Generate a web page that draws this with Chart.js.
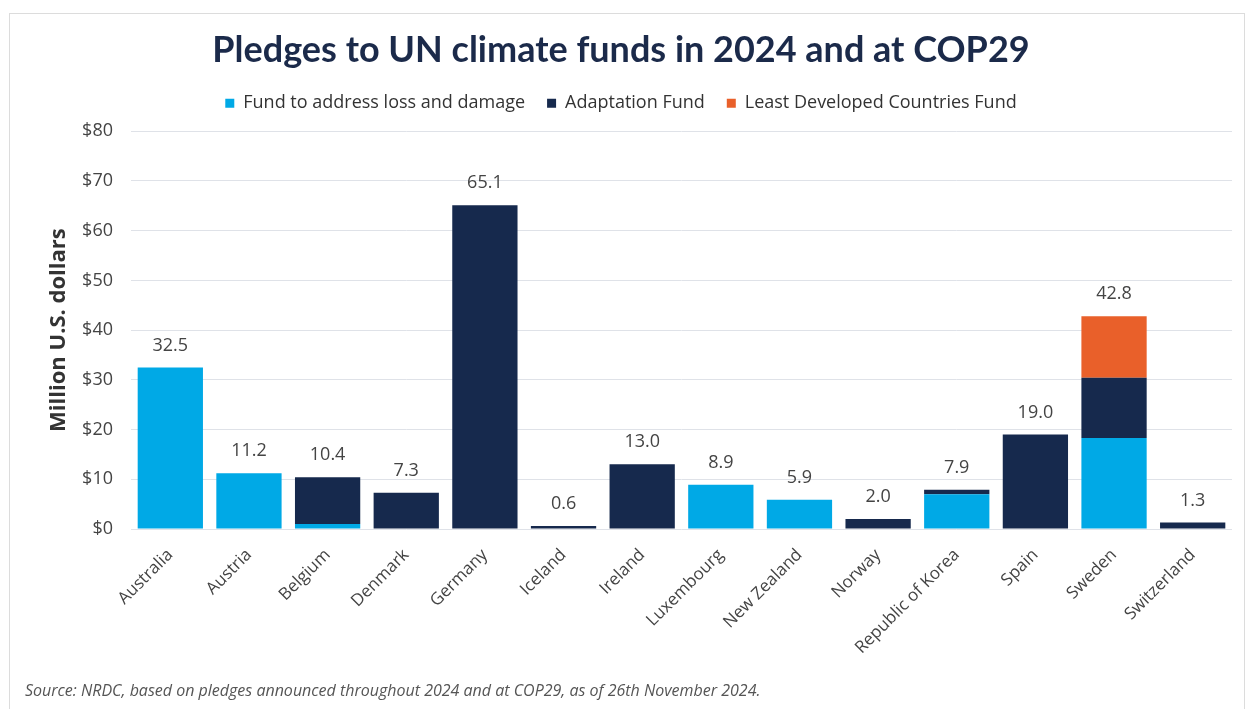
<!DOCTYPE html>
<html>
<head>
<meta charset="utf-8">
<script src="https://cdn.jsdelivr.net/npm/chart.js@4"></script>
<style>
  html, body { margin: 0; padding: 0; background: #fff; }
  body { width: 1253px; height: 709px; position: relative; overflow: hidden; font-family: "Open Sans", sans-serif; }
  .card { position: absolute; left: 9px; top: 13px; width: 1236px; height: 720px; border: 1px solid #dcdcdc; box-sizing: border-box; }
  .wrap { position: absolute; left: 0; top: 0; width: 1253px; height: 709px; }
  .source { position: absolute; left: 25px; top: 679px; font-size: 16px; font-style: italic; color: #555; }
</style>
</head>
<body>
<div class="card"></div>
<div class="wrap"><canvas id="pledgesChart"></canvas></div>
<div class="source">Source: NRDC, based on pledges announced throughout 2024 and at COP29, as of 26th November 2024.</div>
<script>
// Countries and pledges (million USD)
const countries = ['Australia', 'Austria', 'Belgium', 'Denmark', 'Germany', 'Iceland', 'Ireland',
  'Luxembourg', 'New Zealand', 'Norway', 'Republic of Korea', 'Spain', 'Sweden', 'Switzerland'];
const lossDamage = [32.5, 11.2, 1.0, 0, 0, 0, 0, 8.9, 5.9, 0, 7.0, 0, 18.3, 0];
const adaptation = [0, 0, 9.4, 7.3, 65.1, 0.6, 13.0, 0, 0, 2.0, 0.9, 19.0, 12.1, 1.3];
const ldcFund = [0, 0, 0, 0, 0, 0, 0, 0, 0, 0, 0, 0, 12.4, 0];
const yTicks = [0, 10, 20, 30, 40, 50, 60, 70, 80];

const totals = countries.map((_, i) => lossDamage[i] + adaptation[i] + ldcFund[i]);

// Writes the total above each stacked bar
const totalLabels = {
    id: 'totalLabels',
    afterDatasetsDraw: (chart) => {
        const { ctx, scales: { x, y } } = chart;
        ctx.save();
        ctx.font = '18px "Open Sans", sans-serif';
        ctx.fillStyle = '#444';
        ctx.textAlign = 'center';
        ctx.textBaseline = 'bottom';
        totals.forEach((t, i) => {
            ctx.fillText(t.toFixed(1), x.getPixelForValue(i), y.getPixelForValue(t) - 13);
        });
        ctx.restore();
    }
};

// Leaves a little more room between the legend and the plot
const legendGap = {
    id: 'legendGap',
    afterInit: (chart) => {
        const legend = chart.legend;
        const fit = legend.fit;
        legend.fit = function () {
            fit.call(this);
            this.height += 9;
        };
    }
};

new Chart(document.getElementById('pledgesChart'), {
    type: 'bar',
    data: {
        labels: countries,
        datasets: [
            { label: 'Fund to address loss and damage', data: lossDamage, backgroundColor: '#00a9e6' },
            { label: 'Adaptation Fund', data: adaptation, backgroundColor: '#16294d' },
            { label: 'Least Developed Countries Fund', data: ldcFund, backgroundColor: '#e9602a' }
        ]
    },
    options: {
        responsive: true,
        maintainAspectRatio: false,
        animation: false,
        datasets: { bar: { categoryPercentage: 1, barPercentage: 0.83 } },
        layout: { padding: { top: 29, left: 10, right: 21, bottom: 30 } },
        plugins: {
            title: {
                display: true,
                text: 'Pledges to UN climate funds in 2024 and at COP29',
                color: '#1b2a4a',
                font: { family: 'Lato', size: 36, weight: 'bold' },
                padding: { top: 0, bottom: 0 }
            },
            legend: {
                labels: {
                    usePointStyle: true,
                    pointStyle: 'rect',
                    boxWidth: 9,
                    boxHeight: 9,
                    color: '#333',
                    font: { family: 'Open Sans', size: 18 },
                    padding: 22
                }
            },
            tooltip: { enabled: false }
        },
        scales: {
            x: {
                stacked: true,
                grid: { display: false },
                border: { display: false },
                ticks: {
                    color: '#444',
                    font: { family: 'Open Sans', size: 17 },
                    padding: 8,
                    minRotation: 45,
                    maxRotation: 45
                },
                afterFit: (scale) => { scale.height = 150; }
            },
            y: {
                stacked: true,
                min: 0,
                max: 80,
                afterBuildTicks: (scale) => { scale.ticks = yTicks.map(v => ({ value: v })); },
                grid: { color: '#dfe2e8', drawTicks: false },
                border: { display: false },
                ticks: {
                    color: '#444',
                    font: { family: 'Open Sans', size: 18 },
                    padding: 18,
                    callback: (v) => '$' + v
                },
                title: {
                    display: true,
                    text: 'Million U.S. dollars',
                    color: '#333',
                    font: { family: 'Open Sans', size: 22, weight: 'bold' },
                    padding: { top: 36, bottom: 0 }
                },
                afterFit: (scale) => { scale.width = 121; }
            }
        }
    },
    plugins: [totalLabels, legendGap]
});
</script>
</body>
</html>
